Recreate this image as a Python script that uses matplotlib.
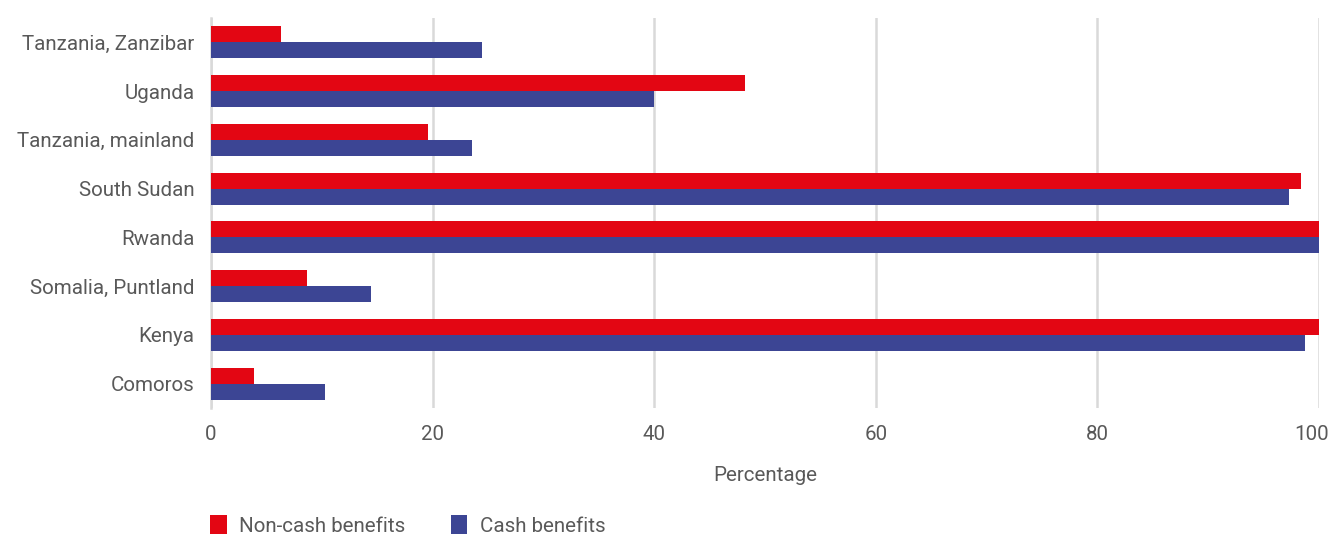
import matplotlib.pyplot as plt
import matplotlib.transforms as mtransforms
import numpy as np

plt.rcParams["font.family"] = ["Roboto", "DejaVu Sans"]

countries = ["Comoros", "Kenya", "Somalia, Puntland", "Rwanda", "South Sudan",
             "Tanzania, mainland", "Uganda", "Tanzania, Zanzibar"]
non_cash = [3.9, 100.0, 8.7, 100.0, 98.4, 19.6, 48.2, 6.3]
cash = [10.3, 98.7, 14.4, 100.0, 97.3, 23.6, 40.0, 24.5]

red = "#e30613"
blue = "#3c4594"
txt = "#595959"
fs = 14.8

fig = plt.figure(figsize=(13.29, 5.39), dpi=100)
ax = fig.add_axes([211 / 1329, 1 - 408 / 539, 1108 / 1329, 390 / 539])

y = np.arange(len(countries))
h = 0.33
ax.barh(y + h / 2, non_cash, height=h, color=red, label="Non-cash benefits", zorder=3)
ax.barh(y - h / 2, cash, height=h, color=blue, label="Cash benefits", zorder=3)

ax.set_xlim(0, 100)
ax.set_ylim(-0.5, 7.5)
ax.set_yticks(y)
ax.set_yticklabels(countries, fontsize=fs, color=txt)
ax.set_xticks([0, 20, 40, 60, 80, 100])
ax.tick_params(axis="x", labelsize=fs, labelcolor=txt, length=0, pad=12)
ax.tick_params(axis="y", length=0, pad=12)
ax.xaxis.grid(True, color="#d9d9d9", linewidth=1.8, zorder=0)
for s in ["top", "right", "bottom"]:
    ax.spines[s].set_visible(False)
ax.spines["left"].set_color("#d9d9d9")
ax.spines["left"].set_linewidth(1.8)

# keep the last tick label inside the figure
last = ax.get_xticklabels()[-1]
last.set_horizontalalignment("right")
last.set_transform(last.get_transform() +
                   mtransforms.ScaledTranslation(10 / 100, 0, fig.dpi_scale_trans))

ax.set_xlabel("Percentage", fontsize=fs, color=txt, labelpad=16)

leg = fig.legend(loc="lower left", bbox_to_anchor=(192 / 1329, -0.028), ncol=2,
                 frameon=False, fontsize=fs, handlelength=0.8, handleheight=1.1,
                 columnspacing=2.2, handletextpad=0.6)
for t in leg.get_texts():
    t.set_color(txt)

fig.savefig("out.png", dpi=100)
